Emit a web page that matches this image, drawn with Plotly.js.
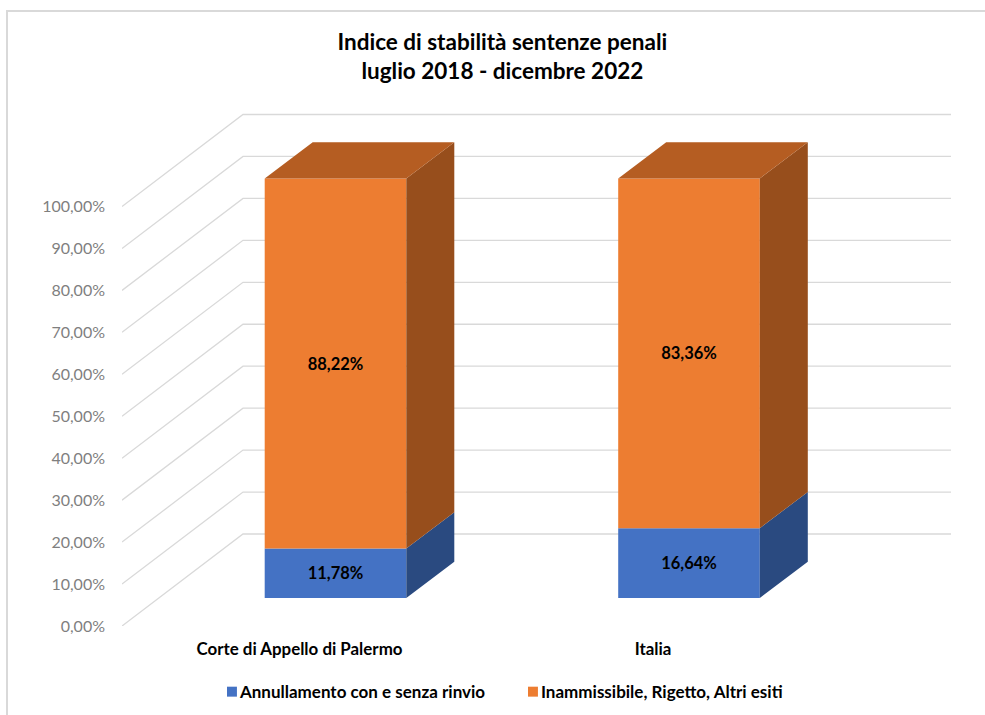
<!DOCTYPE html>
<html>
<head>
<meta charset="utf-8">
<script src="https://cdn.plot.ly/plotly-3.0.1.min.js"></script>
<style>
  html, body { margin: 0; padding: 0; background: #fff; overflow: hidden; }
  #frame { position: absolute; left: 6px; top: 10px; width: 1100px; height: 900px; border: 2px solid #d9d9d9; box-sizing: border-box; }
  #chart { position: absolute; left: 0; top: 0; width: 985px; height: 715px; }
</style>
</head>
<body>
<div id="frame"></div>
<div id="chart"></div>
<script>
// Sentence stability index, July 2018 - December 2022
const categories = ["Corte di Appello di Palermo", "Italia"];
const annullamento = [11.78, 16.64];
const inammissibile = [88.22, 83.36];
const valueTicks = [0, 10, 20, 30, 40, 50, 60, 70, 80, 90, 100];
const valueTickLabels = ["0,00%", "10,00%", "20,00%", "30,00%", "40,00%", "50,00%", "60,00%", "70,00%", "80,00%", "90,00%", "100,00%"];

const seriesNames = ["Annullamento con e senza rinvio", "Inammissibile, Rigetto, Altri esiti"];
const colors = { blue: "#4472c4", blueSide: "#2a4a80", orange: "#ed7d31", orangeSide: "#974e1c", orangeTop: "#b55d22", grid: "#d9d9d9" };

// Oblique projection: the x axis runs in screen-like units, the y axis in percent.
const pxPerPercent = 4.195;
const barCentres = [213.5, 567];
const barWidth = 141.6;
const barDepthX = 48, barDepthY = 36.3 / pxPerPercent;
const wallDepthX = 121, wallDepthY = 92 / pxPerPercent;
const floorOffset = 28 / pxPerPercent;
const wallRight = 829;
const labelShift = 36;

// Grid runs along the side wall, then across the back wall.
const gridShapes = valueTicks.map(v => ({
  type: "path", xref: "x", yref: "y", layer: "below",
  path: `M0,${v} L${wallDepthX},${v + wallDepthY} L${wallRight},${v + wallDepthY}`,
  line: { color: colors.grid, width: 1.3 }
}));

function sideFaces(bottoms, tops) {
  const xs = [], ys = [];
  barCentres.forEach((c, i) => {
    const r = c + barWidth / 2;
    xs.push(r, r + barDepthX, r + barDepthX, r, r, null);
    ys.push(bottoms[i], bottoms[i] + barDepthY, tops[i] + barDepthY, tops[i], bottoms[i], null);
  });
  return { x: xs, y: ys };
}
function topFaces(tops) {
  const xs = [], ys = [];
  barCentres.forEach((c, i) => {
    const l = c - barWidth / 2, r = c + barWidth / 2;
    xs.push(l, r, r + barDepthX, l + barDepthX, l, null);
    ys.push(tops[i], tops[i], tops[i] + barDepthY, tops[i] + barDepthY, tops[i], null);
  });
  return { x: xs, y: ys };
}
const polygon = (pts, fill) => ({
  type: "scatter", mode: "lines", x: pts.x, y: pts.y, fill: "toself", fillcolor: fill,
  line: { width: 0, color: fill }, hoverinfo: "skip", showlegend: false
});

const base1 = annullamento.map(() => floorOffset);
const base2 = annullamento.map(v => floorOffset + v);
const top2 = inammissibile.map((v, i) => base2[i] + v);

const barTrace = (name, values, base, color) => ({
  type: "bar", name, x: barCentres, y: values, base, width: barWidth,
  marker: { color, line: { width: 0 } },
  texttemplate: "%{y:.2f}%", textposition: "inside", insidetextanchor: "middle", textangle: 0,
  insidetextfont: { family: "Lato, sans-serif", size: 16.5, color: "#000", weight: 700 },
  customdata: categories, hovertemplate: "%{customdata}<br>%{y:.2f}%<extra>" + name + "</extra>"
});

const traces = [
  barTrace(seriesNames[0], annullamento, base1, colors.blue),
  barTrace(seriesNames[1], inammissibile, base2, colors.orange),
  polygon(sideFaces(base1, base2), colors.blueSide),
  polygon(sideFaces(base2, top2), colors.orangeSide),
  polygon(topFaces(top2), colors.orangeTop)
];

const layout = {
  width: 985, height: 715,
  margin: { l: 122, r: 34, t: 106, b: 89, pad: 0 },
  paper_bgcolor: "rgba(0,0,0,0)", plot_bgcolor: "rgba(0,0,0,0)",
  separators: ",.",
  barmode: "overlay",
  font: { family: "Lato, sans-serif" },
  title: {
    text: "Indice di stabilità sentenze penali<br>luglio 2018 - dicembre 2022",
    font: { family: "Lato, sans-serif", size: 22.5, color: "#000", weight: 700 },
    xref: "container", yref: "container", x: 0.51, y: 0.9303, xanchor: "center", yanchor: "middle"
  },
  xaxis: {
    range: [0, wallRight], showgrid: false, zeroline: false, showline: false, fixedrange: true,
    tickmode: "array", tickvals: barCentres.map(c => c - labelShift), ticktext: categories,
    ticks: "", ticklabelstandoff: 11,
    tickfont: { family: "Lato, sans-serif", size: 16.9, color: "#000", weight: 700 }
  },
  yaxis: {
    range: [0, 520 / pxPerPercent], showgrid: false, zeroline: false, showline: false, fixedrange: true,
    tickmode: "array", tickvals: valueTicks, ticktext: valueTickLabels,
    ticks: "", ticklabelstandoff: 16,
    tickfont: { family: "Lato, sans-serif", size: 16, color: "#7f7f7f" }
  },
  legend: {
    orientation: "h", xref: "container", yref: "container", x: 0.203, y: 0.032, xanchor: "left", yanchor: "middle",
    font: { family: "Lato, sans-serif", size: 17, color: "#000", weight: 700 },
    entrywidth: 256, entrywidthmode: "pixels", traceorder: "normal"
  },
  shapes: gridShapes
};

// Legend swatches sit close to their labels and a little smaller than the default.
function tightenLegend() {
  document.querySelectorAll("#chart .legend .legendpoints").forEach(g => {
    g.setAttribute("transform", "translate(15.4,0) scale(0.83)");
  });
}

Plotly.newPlot("chart", traces, layout, { displayModeBar: false, responsive: false }).then(gd => {
  tightenLegend();
  gd.on("plotly_afterplot", tightenLegend);
});
</script>
</body>
</html>
